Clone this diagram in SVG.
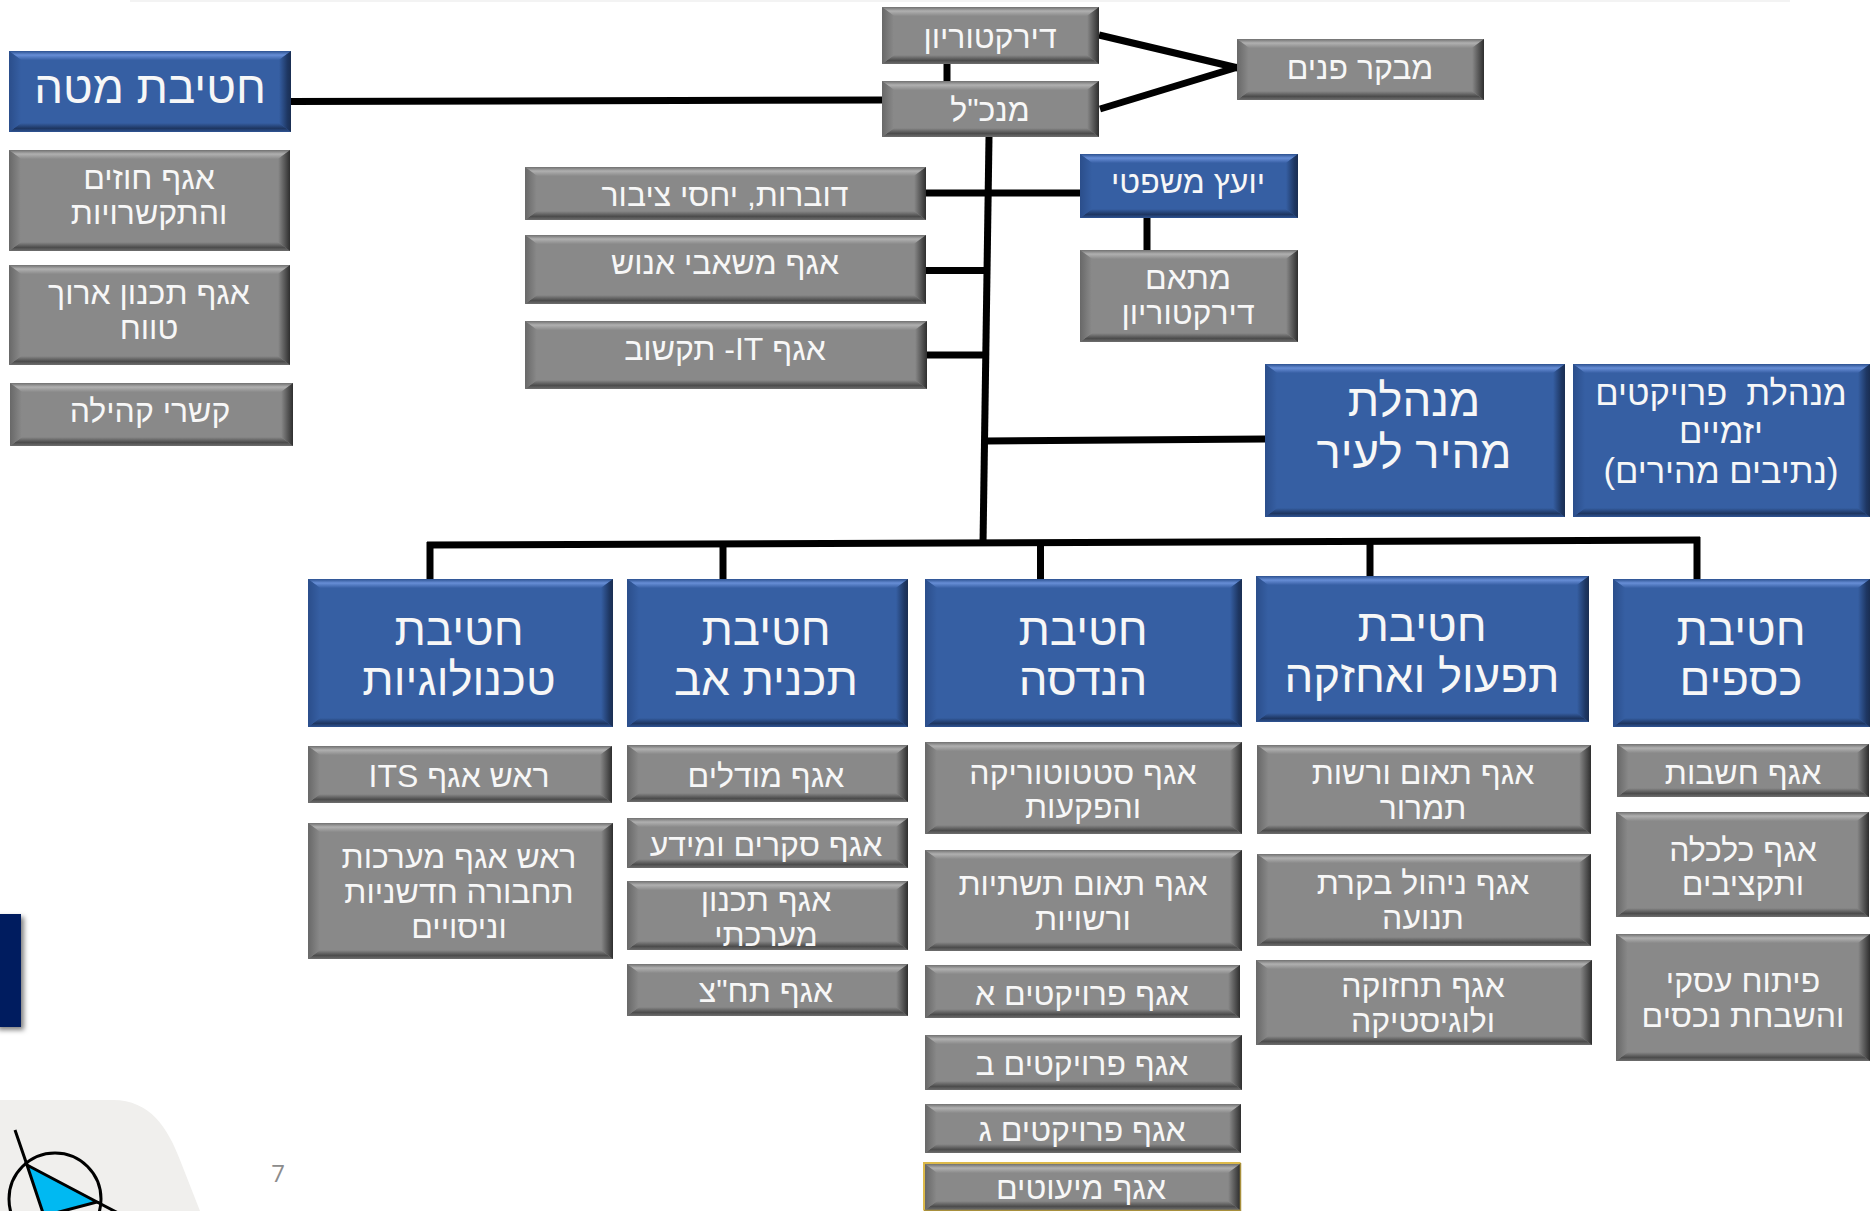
<svg xmlns="http://www.w3.org/2000/svg" width="1870" height="1211" viewBox="0 0 1870 1211">
<style>
.g{fill:#898989}.b{fill:#365fa3}
.gt{fill:url(#gt)}.gb{fill:url(#gb)}.gl{fill:url(#gl)}.gr{fill:url(#gr)}
.bt{fill:url(#bt)}.bb{fill:url(#bb)}.bl{fill:url(#bl)}.br{fill:url(#br)}
text{font-family:"Liberation Sans",Arial,sans-serif;fill:#f7f7f7;text-anchor:middle;direction:rtl;white-space:pre}
.s{font-size:32px;transform:translateY(1px)}.m{font-size:34.5px}.l{font-size:45.5px}
.c line{stroke:#000;stroke-width:7;stroke-linecap:butt}
</style>
<defs>
<linearGradient id="gt" x1="0" y1="0" x2="0" y2="1"><stop offset="0" stop-color="#707070"/><stop offset=".45" stop-color="#b0b0b0"/><stop offset="1" stop-color="#8a8a8a"/></linearGradient>
<linearGradient id="gb" x1="0" y1="0" x2="0" y2="1"><stop offset="0" stop-color="#8a8a8a"/><stop offset=".6" stop-color="#4c4c4c"/><stop offset="1" stop-color="#6e6e6e"/></linearGradient>
<linearGradient id="gl" x1="0" y1="0" x2="1" y2="0"><stop offset="0" stop-color="#686868"/><stop offset="1" stop-color="#8a8a8a"/></linearGradient>
<linearGradient id="gr" x1="0" y1="0" x2="1" y2="0"><stop offset="0" stop-color="#8a8a8a"/><stop offset=".7" stop-color="#4a4a4a"/><stop offset="1" stop-color="#2e2e2e"/></linearGradient>
<linearGradient id="bt" x1="0" y1="0" x2="0" y2="1"><stop offset="0" stop-color="#2c5190"/><stop offset=".45" stop-color="#678ed6"/><stop offset="1" stop-color="#375fa4"/></linearGradient>
<linearGradient id="bb" x1="0" y1="0" x2="0" y2="1"><stop offset="0" stop-color="#365fa3"/><stop offset=".6" stop-color="#1e3661"/><stop offset="1" stop-color="#2f5494"/></linearGradient>
<linearGradient id="bl" x1="0" y1="0" x2="1" y2="0"><stop offset="0" stop-color="#2b4e8b"/><stop offset="1" stop-color="#365fa3"/></linearGradient>
<linearGradient id="br" x1="0" y1="0" x2="1" y2="0"><stop offset="0" stop-color="#365fa3"/><stop offset=".7" stop-color="#1e3763"/><stop offset="1" stop-color="#1a2e52"/></linearGradient>
<filter id="sh" x="-50%" y="-10%" width="250%" height="130%"><feDropShadow dx="3" dy="3" stdDeviation="2.5" flood-color="#000" flood-opacity=".5"/></filter>
<clipPath id="pg"><rect width="1870" height="1211"/></clipPath>
</defs>
<rect width="1870" height="1211" fill="#fff"/>
<rect x="130" y="0" width="1660" height="2" fill="#f3f3f3"/>

<g id="decor" clip-path="url(#pg)">
<path d="M0 1100H113C150 1100 168 1128 180 1160L200 1211H0Z" fill="#f0efed"/>
<rect x="-5" y="914" width="26" height="113" fill="#001f5f" filter="url(#sh)"/>
<circle cx="55" cy="1199" r="46" fill="none" stroke="#000" stroke-width="3"/>
<path d="M27 1165L97 1202L44 1216Z" fill="#00b9f2" stroke="#000" stroke-width="3"/>
<path d="M15 1130L27 1165M97 1202L120 1214" stroke="#000" stroke-width="3" fill="none"/>
</g>
<text id="page-number" x="278" y="1182" style="font-family:'Open Sans',sans-serif;font-size:24px;fill:#8c8c8c;direction:ltr">7</text>

<g id="connectors" class="c">
<line x1="291" y1="101.5" x2="882" y2="100"/>
<line x1="947" y1="63" x2="947" y2="82"/>
<line x1="1099" y1="35" x2="1238" y2="68"/>
<line x1="1100" y1="109" x2="1238" y2="67"/>
<line x1="989" y1="137" x2="983" y2="544"/>
<line x1="926" y1="193" x2="1081" y2="193"/>
<line x1="926" y1="270.5" x2="987" y2="270.5"/>
<line x1="927" y1="355" x2="986" y2="355"/>
<line x1="986" y1="441" x2="1265" y2="439"/>
<line x1="1147" y1="217" x2="1147" y2="251"/>
<line x1="427" y1="545" x2="1700" y2="540"/>
<line x1="430" y1="542" x2="430" y2="580"/>
<line x1="723" y1="544" x2="723" y2="580"/>
<line x1="1040.5" y1="543" x2="1040.5" y2="580"/>
<line x1="1370" y1="541" x2="1370" y2="577"/>
<line x1="1697" y1="537" x2="1697" y2="580"/>
</g>

<g id="n-direktorion"><rect class="g" x="882" y="7" width="217" height="57"/><path class="gt" d="M882 7H1099l-12 9H894z"/><path class="gb" d="M882 64H1099l-12 -9H894z"/><path class="gl" d="M882 7l12 9V55l-12 9z"/><path class="gr" d="M1099 7l-12 9V55l12 9z"/><text class="s" x="990" y="47">דירקטוריון</text></g>
<g id="n-mankal"><rect class="g" x="882" y="81" width="217" height="56"/><path class="gt" d="M882 81H1099l-12 9H894z"/><path class="gb" d="M882 137H1099l-12 -9H894z"/><path class="gl" d="M882 81l12 9V128l-12 9z"/><path class="gr" d="M1099 81l-12 9V128l12 9z"/><text class="s" x="990" y="120">מנכ"ל</text></g>
<g id="n-mevaker"><rect class="g" x="1237" y="39" width="247" height="61"/><path class="gt" d="M1237 39H1484l-12 9H1249z"/><path class="gb" d="M1237 100H1484l-12 -9H1249z"/><path class="gl" d="M1237 39l12 9V91l-12 9z"/><path class="gr" d="M1484 39l-12 9V91l12 9z"/><text class="s" x="1360" y="78">מבקר פנים</text></g>
<g id="n-mate"><rect class="b" x="9" y="51" width="282" height="81"/><path class="bt" d="M9 51H291l-12 9H21z"/><path class="bb" d="M9 132H291l-12 -9H21z"/><path class="bl" d="M9 51l12 9V123l-12 9z"/><path class="br" d="M291 51l-12 9V123l12 9z"/><text class="l" x="150" y="103">חטיבת מטה</text></g>
<g id="n-hozim"><rect class="g" x="9" y="150" width="281" height="101"/><path class="gt" d="M9 150H290l-12 9H21z"/><path class="gb" d="M9 251H290l-12 -9H21z"/><path class="gl" d="M9 150l12 9V242l-12 9z"/><path class="gr" d="M290 150l-12 9V242l12 9z"/><text class="s" x="149" y="188">אגף חוזים</text><text class="s" x="149" y="223">והתקשרויות</text></g>
<g id="n-tichnun"><rect class="g" x="9" y="265" width="281" height="100"/><path class="gt" d="M9 265H290l-12 9H21z"/><path class="gb" d="M9 365H290l-12 -9H21z"/><path class="gl" d="M9 265l12 9V356l-12 9z"/><path class="gr" d="M290 265l-12 9V356l12 9z"/><text class="s" x="149" y="303">אגף תכנון ארוך</text><text class="s" x="149" y="338">טווח</text></g>
<g id="n-kehila"><rect class="g" x="10" y="383" width="283" height="63"/><path class="gt" d="M10 383H293l-12 9H22z"/><path class="gb" d="M10 446H293l-12 -9H22z"/><path class="gl" d="M10 383l12 9V437l-12 9z"/><path class="gr" d="M293 383l-12 9V437l12 9z"/><text class="s" x="150" y="421">קשרי קהילה</text></g>
<g id="n-dovrut"><rect class="g" x="525" y="167" width="401" height="53"/><path class="gt" d="M525 167H926l-12 9H537z"/><path class="gb" d="M525 220H926l-12 -9H537z"/><path class="gl" d="M525 167l12 9V211l-12 9z"/><path class="gr" d="M926 167l-12 9V211l12 9z"/><text class="s" x="725" y="205">דוברות, יחסי ציבור</text></g>
<g id="n-enosh"><rect class="g" x="525" y="235" width="401" height="69"/><path class="gt" d="M525 235H926l-12 9H537z"/><path class="gb" d="M525 304H926l-12 -9H537z"/><path class="gl" d="M525 235l12 9V295l-12 9z"/><path class="gr" d="M926 235l-12 9V295l12 9z"/><text class="s" x="725" y="273">אגף משאבי אנוש</text></g>
<g id="n-it"><rect class="g" x="525" y="321" width="402" height="68"/><path class="gt" d="M525 321H927l-12 9H537z"/><path class="gb" d="M525 389H927l-12 -9H537z"/><path class="gl" d="M525 321l12 9V380l-12 9z"/><path class="gr" d="M927 321l-12 9V380l12 9z"/><text class="s" x="725" y="359">אגף IT- תקשוב</text></g>
<g id="n-yoetz"><rect class="b" x="1080" y="154" width="218" height="64"/><path class="bt" d="M1080 154H1298l-12 9H1092z"/><path class="bb" d="M1080 218H1298l-12 -9H1092z"/><path class="bl" d="M1080 154l12 9V209l-12 9z"/><path class="br" d="M1298 154l-12 9V209l12 9z"/><text class="s" x="1188" y="192">יועץ משפטי</text></g>
<g id="n-metaem"><rect class="g" x="1080" y="250" width="218" height="92"/><path class="gt" d="M1080 250H1298l-12 9H1092z"/><path class="gb" d="M1080 342H1298l-12 -9H1092z"/><path class="gl" d="M1080 250l12 9V333l-12 9z"/><path class="gr" d="M1298 250l-12 9V333l12 9z"/><text class="s" x="1188" y="288">מתאם</text><text class="s" x="1188" y="323">דירקטוריון</text></g>
<g id="n-minhelet"><rect class="b" x="1265" y="364" width="300" height="153"/><path class="bt" d="M1265 364H1565l-12 9H1277z"/><path class="bb" d="M1265 517H1565l-12 -9H1277z"/><path class="bl" d="M1265 364l12 9V508l-12 9z"/><path class="br" d="M1565 364l-12 9V508l12 9z"/><text class="l" x="1414" y="416">מנהלת</text><text class="l" x="1414" y="468">מהיר לעיר</text></g>
<g id="n-yazam"><rect class="b" x="1573" y="364" width="297" height="153"/><path class="bt" d="M1573 364H1870l-12 9H1585z"/><path class="bb" d="M1573 517H1870l-12 -9H1585z"/><path class="bl" d="M1573 364l12 9V508l-12 9z"/><path class="br" d="M1870 364l-12 9V508l12 9z"/><text class="m" x="1721" y="405">מנהלת  פרויקטים</text><text class="m" x="1721" y="443">יזמיים</text><text class="m" x="1721" y="483">(נתיבים מהירים)</text></g>

<g id="n-tech"><rect class="b" x="308" y="579" width="305" height="148"/><path class="bt" d="M308 579H613l-12 9H320z"/><path class="bb" d="M308 727H613l-12 -9H320z"/><path class="bl" d="M308 579l12 9V718l-12 9z"/><path class="br" d="M613 579l-12 9V718l12 9z"/><text class="l" x="459" y="645">חטיבת</text><text class="l" x="459" y="695">טכנולוגיות</text></g>
<g id="n-av"><rect class="b" x="627" y="579" width="281" height="148"/><path class="bt" d="M627 579H908l-12 9H639z"/><path class="bb" d="M627 727H908l-12 -9H639z"/><path class="bl" d="M627 579l12 9V718l-12 9z"/><path class="br" d="M908 579l-12 9V718l12 9z"/><text class="l" x="766" y="645">חטיבת</text><text class="l" x="766" y="695">תכנית אב</text></g>
<g id="n-handasa"><rect class="b" x="925" y="579" width="317" height="148"/><path class="bt" d="M925 579H1242l-12 9H937z"/><path class="bb" d="M925 727H1242l-12 -9H937z"/><path class="bl" d="M925 579l12 9V718l-12 9z"/><path class="br" d="M1242 579l-12 9V718l12 9z"/><text class="l" x="1083" y="645">חטיבת</text><text class="l" x="1083" y="695">הנדסה</text></g>
<g id="n-tiful"><rect class="b" x="1256" y="576" width="333" height="146"/><path class="bt" d="M1256 576H1589l-12 9H1268z"/><path class="bb" d="M1256 722H1589l-12 -9H1268z"/><path class="bl" d="M1256 576l12 9V713l-12 9z"/><path class="br" d="M1589 576l-12 9V713l12 9z"/><text class="l" x="1422" y="641">חטיבת</text><text class="l" x="1422" y="692">תפעול ואחזקה</text></g>
<g id="n-ksafim"><rect class="b" x="1613" y="579" width="257" height="148"/><path class="bt" d="M1613 579H1870l-12 9H1625z"/><path class="bb" d="M1613 727H1870l-12 -9H1625z"/><path class="bl" d="M1613 579l12 9V718l-12 9z"/><path class="br" d="M1870 579l-12 9V718l12 9z"/><text class="l" x="1741" y="645">חטיבת</text><text class="l" x="1741" y="695">כספים</text></g>

<g id="n-its"><rect class="g" x="308" y="746" width="304" height="57"/><path class="gt" d="M308 746H612l-12 9H320z"/><path class="gb" d="M308 803H612l-12 -9H320z"/><path class="gl" d="M308 746l12 9V794l-12 9z"/><path class="gr" d="M612 746l-12 9V794l12 9z"/><text class="s" x="459" y="786">ראש אגף ITS</text></g>
<g id="n-maarachot"><rect class="g" x="308" y="823" width="305" height="136"/><path class="gt" d="M308 823H613l-12 9H320z"/><path class="gb" d="M308 959H613l-12 -9H320z"/><path class="gl" d="M308 823l12 9V950l-12 9z"/><path class="gr" d="M613 823l-12 9V950l12 9z"/><text class="s" x="459" y="867">ראש אגף מערכות</text><text class="s" x="459" y="902">תחבורה חדשניות</text><text class="s" x="459" y="937">וניסויים</text></g>
<g id="n-modelim"><rect class="g" x="627" y="745" width="281" height="57"/><path class="gt" d="M627 745H908l-12 9H639z"/><path class="gb" d="M627 802H908l-12 -9H639z"/><path class="gl" d="M627 745l12 9V793l-12 9z"/><path class="gr" d="M908 745l-12 9V793l12 9z"/><text class="s" x="766" y="786">אגף מודלים</text></g>
<g id="n-skarim"><rect class="g" x="627" y="818" width="281" height="50"/><path class="gt" d="M627 818H908l-12 9H639z"/><path class="gb" d="M627 868H908l-12 -9H639z"/><path class="gl" d="M627 818l12 9V859l-12 9z"/><path class="gr" d="M908 818l-12 9V859l12 9z"/><text class="s" x="766" y="855">אגף סקרים ומידע</text></g>
<g id="n-maarachti"><rect class="g" x="627" y="881" width="281" height="69"/><path class="gt" d="M627 881H908l-12 9H639z"/><path class="gb" d="M627 950H908l-12 -9H639z"/><path class="gl" d="M627 881l12 9V941l-12 9z"/><path class="gr" d="M908 881l-12 9V941l12 9z"/><text class="s" x="766" y="910">אגף תכנון</text><text class="s" x="766" y="945">מערכתי</text></g>
<g id="n-tahatz"><rect class="g" x="627" y="964" width="281" height="52"/><path class="gt" d="M627 964H908l-12 9H639z"/><path class="gb" d="M627 1016H908l-12 -9H639z"/><path class="gl" d="M627 964l12 9V1007l-12 9z"/><path class="gr" d="M908 964l-12 9V1007l12 9z"/><text class="s" x="766" y="1001">אגף תח"צ</text></g>
<g id="n-statutorika"><rect class="g" x="925" y="742" width="317" height="92"/><path class="gt" d="M925 742H1242l-12 9H937z"/><path class="gb" d="M925 834H1242l-12 -9H937z"/><path class="gl" d="M925 742l12 9V825l-12 9z"/><path class="gr" d="M1242 742l-12 9V825l12 9z"/><text class="s" x="1083" y="783">אגף סטטוטוריקה</text><text class="s" x="1083" y="817">והפקעות</text></g>
<g id="n-tashtiot"><rect class="g" x="925" y="850" width="317" height="101"/><path class="gt" d="M925 850H1242l-12 9H937z"/><path class="gb" d="M925 951H1242l-12 -9H937z"/><path class="gl" d="M925 850l12 9V942l-12 9z"/><path class="gr" d="M1242 850l-12 9V942l12 9z"/><text class="s" x="1083" y="894">אגף תאום תשתיות</text><text class="s" x="1083" y="929">ורשויות</text></g>
<g id="n-proj-a"><rect class="g" x="925" y="965" width="315" height="53"/><path class="gt" d="M925 965H1240l-12 9H937z"/><path class="gb" d="M925 1018H1240l-12 -9H937z"/><path class="gl" d="M925 965l12 9V1009l-12 9z"/><path class="gr" d="M1240 965l-12 9V1009l12 9z"/><text class="s" x="1082" y="1004">אגף פרויקטים א</text></g>
<g id="n-proj-b"><rect class="g" x="925" y="1035" width="317" height="55"/><path class="gt" d="M925 1035H1242l-12 9H937z"/><path class="gb" d="M925 1090H1242l-12 -9H937z"/><path class="gl" d="M925 1035l12 9V1081l-12 9z"/><path class="gr" d="M1242 1035l-12 9V1081l12 9z"/><text class="s" x="1082" y="1074">אגף פרויקטים ב</text></g>
<g id="n-proj-g"><rect class="g" x="925" y="1104" width="316" height="49"/><path class="gt" d="M925 1104H1241l-12 9H937z"/><path class="gb" d="M925 1153H1241l-12 -9H937z"/><path class="gl" d="M925 1104l12 9V1144l-12 9z"/><path class="gr" d="M1241 1104l-12 9V1144l12 9z"/><text class="s" x="1082" y="1140">אגף פרויקטים ג</text></g>
<g id="n-miutim"><rect class="g" x="925" y="1164" width="315" height="46"/><path class="gt" d="M925 1164H1240l-12 9H937z"/><path class="gb" d="M925 1210H1240l-12 -9H937z"/><path class="gl" d="M925 1164l12 9V1201l-12 9z"/><path class="gr" d="M1240 1164l-12 9V1201l12 9z"/><path d="M924 1210.500V1163H1240.500" fill="none" stroke="#dcb94a" stroke-width="2"/><path d="M1240.500 1163V1210.500H924" fill="none" stroke="#a8903c" stroke-width="1.500"/><text class="s" x="1081" y="1198">אגף מיעוטים</text></g>
<g id="n-teum"><rect class="g" x="1257" y="745" width="334" height="89"/><path class="gt" d="M1257 745H1591l-12 9H1269z"/><path class="gb" d="M1257 834H1591l-12 -9H1269z"/><path class="gl" d="M1257 745l12 9V825l-12 9z"/><path class="gr" d="M1591 745l-12 9V825l12 9z"/><text class="s" x="1423" y="783">אגף תאום ורשות</text><text class="s" x="1423" y="818">תמרור</text></g>
<g id="n-bakara"><rect class="g" x="1257" y="854" width="334" height="92"/><path class="gt" d="M1257 854H1591l-12 9H1269z"/><path class="gb" d="M1257 946H1591l-12 -9H1269z"/><path class="gl" d="M1257 854l12 9V937l-12 9z"/><path class="gr" d="M1591 854l-12 9V937l12 9z"/><text class="s" x="1423" y="893">אגף ניהול בקרת</text><text class="s" x="1423" y="928">תנועה</text></g>
<g id="n-tahzuka"><rect class="g" x="1256" y="960" width="336" height="85"/><path class="gt" d="M1256 960H1592l-12 9H1268z"/><path class="gb" d="M1256 1045H1592l-12 -9H1268z"/><path class="gl" d="M1256 960l12 9V1036l-12 9z"/><path class="gr" d="M1592 960l-12 9V1036l12 9z"/><text class="s" x="1423" y="996">אגף תחזוקה</text><text class="s" x="1423" y="1031">ולוגיסטיקה</text></g>
<g id="n-heshbut"><rect class="g" x="1617" y="744" width="252" height="53"/><path class="gt" d="M1617 744H1869l-12 9H1629z"/><path class="gb" d="M1617 797H1869l-12 -9H1629z"/><path class="gl" d="M1617 744l12 9V788l-12 9z"/><path class="gr" d="M1869 744l-12 9V788l12 9z"/><text class="s" x="1743" y="783">אגף חשבות</text></g>
<g id="n-kalkala"><rect class="g" x="1616" y="812" width="253" height="105"/><path class="gt" d="M1616 812H1869l-12 9H1628z"/><path class="gb" d="M1616 917H1869l-12 -9H1628z"/><path class="gl" d="M1616 812l12 9V908l-12 9z"/><path class="gr" d="M1869 812l-12 9V908l12 9z"/><text class="s" x="1743" y="860">אגף כלכלה</text><text class="s" x="1743" y="894">ותקציבים</text></g>
<g id="n-pituach"><rect class="g" x="1616" y="934" width="254" height="127"/><path class="gt" d="M1616 934H1870l-12 9H1628z"/><path class="gb" d="M1616 1061H1870l-12 -9H1628z"/><path class="gl" d="M1616 934l12 9V1052l-12 9z"/><path class="gr" d="M1870 934l-12 9V1052l12 9z"/><text class="s" x="1743" y="991">פיתוח עסקי</text><text class="s" x="1743" y="1026">והשבחת נכסים</text></g>
</svg>
